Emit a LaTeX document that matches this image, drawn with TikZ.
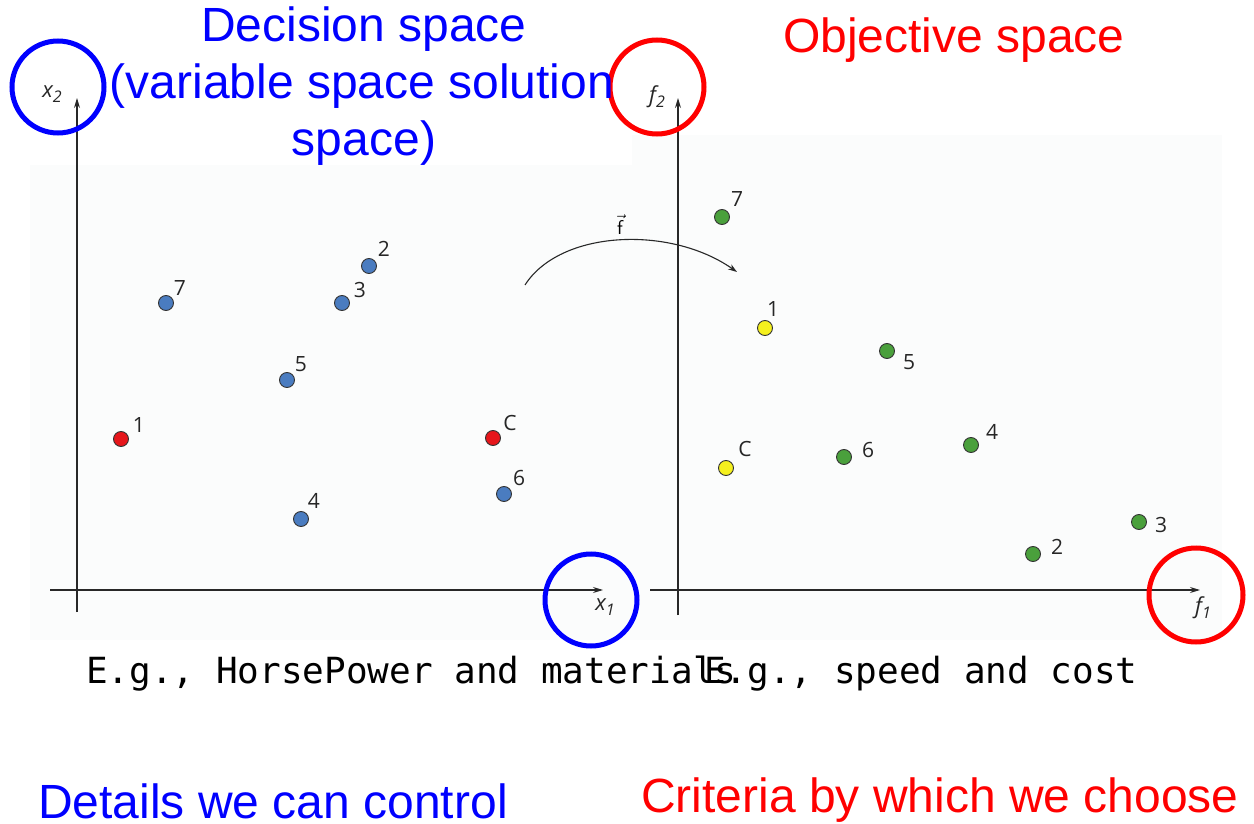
\documentclass[tikz,border=0pt]{standalone}
\usepackage{fontspec}
\setmainfont{Liberation Sans}
\newfontfamily\monof{DejaVu Sans Mono}
\newfontfamily\lblf{Open Sans}
\usetikzlibrary{arrows.meta}
\definecolor{ptblue}{RGB}{74,124,192}
\definecolor{ptred}{RGB}{230,22,27}
\definecolor{ptgreen}{RGB}{74,160,60}
\definecolor{ptyellow}{RGB}{245,240,30}
\definecolor{panel}{RGB}{251,252,252}
\definecolor{axisc}{RGB}{40,40,40}
\definecolor{hlblue}{RGB}{0,0,255}
\definecolor{hlred}{RGB}{255,0,0}
\tikzset{
  dot/.style={circle, draw=black!80, line width=0.9pt, minimum size=15pt, inner sep=0pt},
  num/.style={font=\lblf\fontsize{21}{21}\selectfont, text=black!85, inner sep=0pt},
  axlab/.style={font=\lblf\itshape\fontsize{22}{22}\selectfont, text=black!85, inner sep=0pt},
  axis/.style={draw=axisc, line width=1.2pt, -{Stealth[length=10pt,width=6pt]}},
  hl/.style={line width=5pt},
  big/.style={font=\fontsize{48}{57}\selectfont, inner sep=0pt},
  mono/.style={font=\monof\fontsize{36}{36}\selectfont, inner sep=0pt, anchor=base west},
}
\begin{document}
\begin{tikzpicture}[x=1pt,y=-1pt]
\useasboundingbox (0,0) rectangle (1254,824);
% faint panels
\fill[panel] (30,165) rectangle (648,640);
\fill[panel] (632,135) rectangle (1222,640);

% left axes
\coordinate (lo1) at (77,612);
\coordinate (lo2) at (77,98);
\coordinate (lh1) at (50,590);
\coordinate (lh2) at (603,590);
\draw[axis] (lo1) -- (lo2);
\draw[axis] (lh1) -- (lh2);
\node[axlab] (x2) at (52,94) {x\raisebox{-5pt}{\fontsize{16}{16}\selectfont 2}};
\node[axlab] (x1) at (605,607) {x\raisebox{-5pt}{\fontsize{16}{16}\selectfont 1}};

% right axes
\coordinate (ro1) at (678,615);
\coordinate (ro2) at (678,98);
\coordinate (rh1) at (650,590);
\coordinate (rh2) at (1200,590);
\draw[axis] (ro1) -- (ro2);
\draw[axis] (rh1) -- (rh2);
\node[axlab] (f2) at (657,97) {f\raisebox{-5pt}{\fontsize{16}{16}\selectfont 2}};
\node[axlab] (f1) at (1203,608) {f\raisebox{-5pt}{\fontsize{16}{16}\selectfont 1}};

% mapping arrow
\coordinate (ma) at (525,285);
\coordinate (mb) at (737,272);
\draw[draw=axisc, line width=1.1pt, -{Stealth[length=9pt,width=6pt]}] (ma) .. controls (560,230) and (670,225) .. (mb);
\node[inner sep=0pt] (fvec) at (620,225) {\fontsize{20}{20}\selectfont$\vec{\mathsf{f}}$};

% left points
\node[dot, fill=ptblue] (L7) at (166,303) {};
\node[num] (L7t) at (180,288) {7};
\node[dot, fill=ptblue] (L2) at (369,266) {};
\node[num] (L2t) at (384,249) {2};
\node[dot, fill=ptblue] (L3) at (342,303) {};
\node[num] (L3t) at (360,290) {3};
\node[dot, fill=ptblue] (L5) at (287,380) {};
\node[num] (L5t) at (301,364) {5};
\node[dot, fill=ptred] (L1) at (121,439) {};
\node[num] (L1t) at (139,425) {1};
\node[dot, fill=ptred] (LC) at (493,438) {};
\node[num] (LCt) at (510,423) {C};
\node[dot, fill=ptblue] (L6) at (504,494) {};
\node[num] (L6t) at (519,478) {6};
\node[dot, fill=ptblue] (L4) at (301,519) {};
\node[num] (L4t) at (314,501) {4};

% right points
\node[dot, fill=ptgreen] (R7) at (722,217) {};
\node[num] (R7t) at (737,199) {7};
\node[dot, fill=ptyellow] (R1) at (765,328) {};
\node[num] (R1t) at (773,309) {1};
\node[dot, fill=ptgreen] (R5) at (887,351) {};
\node[num] (R5t) at (909,362) {5};
\node[dot, fill=ptyellow] (RC) at (726,468) {};
\node[num] (RCt) at (745,449) {C};
\node[dot, fill=ptgreen] (R6) at (844,457) {};
\node[num] (R6t) at (868,450) {6};
\node[dot, fill=ptgreen] (R4) at (971,445) {};
\node[num] (R4t) at (992,432) {4};
\node[dot, fill=ptgreen] (R3) at (1139,522) {};
\node[num] (R3t) at (1161,525) {3};
\node[dot, fill=ptgreen] (R2) at (1033,554) {};
\node[num] (R2t) at (1057,547) {2};

% highlight circles
\draw[hl, hlblue] (58,87) circle (46);
\draw[hl, hlred] (657,87) circle (47);
\draw[hl, hlblue] (591,600) circle (46);
\draw[hl, hlred] (1196,595) circle (47);

% headings
\node[big, text=hlblue, anchor=base] (dec1) at (364,42) {Decision space};
\node[big, text=hlblue, anchor=base] (dec2) at (362,99) {(variable space solution};
\node[big, text=hlblue, anchor=base] (dec3) at (364,156) {space)};
\node[big, text=hlred, anchor=base] (obj) at (954,53) {Objective space};
\node[big, text=hlblue, anchor=base] (det) at (273,818) {Details we can control};
\node[big, text=hlred, anchor=base] (crit) at (940,812) {Criteria by which we choose};

% mono examples
\node[mono] (eg1) at (86,683) {E.g., HorsePower and materials};
\node[mono] (eg2) at (704,683) {E.g., speed and cost};
\end{tikzpicture}
\end{document}
